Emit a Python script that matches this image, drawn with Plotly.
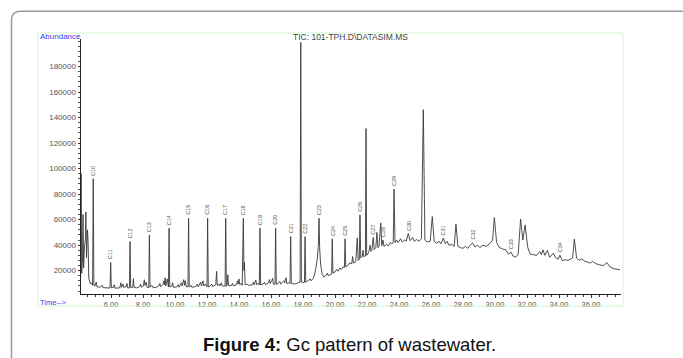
import plotly.graph_objects as go

# ---------------- data ----------------
rt_min = [
    4.10, 4.13, 4.17, 4.22, 4.25, 4.29, 4.34, 4.40, 4.43, 4.47, 4.50, 4.53, 4.57, 4.61, 4.66, 4.72,
    4.80, 4.85, 4.89, 4.93, 5.00, 5.08, 5.12, 5.30, 5.45, 5.50, 5.70, 5.94, 5.98, 6.02, 6.15, 6.20,
    6.25, 6.55, 6.62, 6.66, 6.75, 6.80, 6.95, 7.00, 7.04, 7.15, 7.19, 7.23, 7.36, 7.40, 7.44, 7.60,
    7.80, 7.85, 7.90, 8.03, 8.08, 8.12, 8.20, 8.25, 8.36, 8.40, 8.44, 8.55, 8.60, 8.80, 9.00, 9.05,
    9.10, 9.25, 9.30, 9.34, 9.38, 9.42, 9.52, 9.56, 9.59, 9.63, 9.67, 9.80, 9.85, 9.90, 10.10, 10.20,
    10.25, 10.40, 10.45, 10.55, 10.60, 10.65, 10.70, 10.81, 10.85, 10.89, 11.00, 11.05, 11.30, 11.40,
    11.45, 11.60, 11.65, 11.75, 11.80, 11.90, 11.95, 12.00, 12.04, 12.08, 12.20, 12.30, 12.35, 12.55,
    12.60, 12.64, 12.75, 12.80, 12.90, 12.95, 13.13, 13.17, 13.21, 13.27, 13.30, 13.34, 13.50, 13.60,
    13.65, 13.85, 13.90, 13.95, 14.00, 14.05, 14.15, 14.20, 14.27, 14.31, 14.34, 14.38, 14.50, 14.60,
    14.85, 14.90, 14.95, 15.05, 15.10, 15.20, 15.27, 15.31, 15.35, 15.50, 15.60, 15.65, 15.85, 15.90,
    15.95, 16.05, 16.10, 16.15, 16.25, 16.29, 16.33, 16.45, 16.55, 16.60, 16.75, 16.80, 16.85, 16.94,
    16.98, 17.10, 17.19, 17.23, 17.27, 17.45, 17.60, 17.75, 17.82, 17.86, 17.90, 17.98, 18.09, 18.13,
    18.17, 18.30, 18.45, 18.50, 18.65, 18.78, 18.90, 18.96, 19.00, 19.04, 19.10, 19.20, 19.30, 19.45,
    19.52, 19.58, 19.70, 19.79, 19.83, 19.87, 20.00, 20.10, 20.20, 20.30, 20.40, 20.50, 20.59, 20.63,
    20.67, 20.80, 20.90, 21.05, 21.10, 21.15, 21.30, 21.39, 21.45, 21.52, 21.56, 21.61, 21.70, 21.75,
    21.80, 21.90, 21.94, 21.98, 22.05, 22.12, 22.19, 22.25, 22.30, 22.39, 22.45, 22.55, 22.62, 22.68,
    22.75, 22.86, 22.92, 23.00, 23.06, 23.20, 23.35, 23.45, 23.55, 23.64, 23.69, 23.75, 23.85, 23.95,
    24.10, 24.20, 24.35, 24.45, 24.58, 24.70, 24.85, 24.95, 25.10, 25.25, 25.40, 25.52, 25.62, 25.75,
    25.95, 26.08, 26.20, 26.35, 26.50, 26.62, 26.77, 26.90, 27.00, 27.12, 27.30, 27.45, 27.56, 27.68,
    27.85, 28.00, 28.15, 28.30, 28.45, 28.60, 28.75, 28.90, 29.05, 29.25, 29.45, 29.70, 29.85, 29.96,
    30.10, 30.25, 30.45, 30.65, 30.85, 31.00, 31.12, 31.30, 31.45, 31.60, 31.74, 31.88, 32.05, 32.20,
    32.40, 32.60, 32.81, 32.90, 33.00, 33.12, 33.27, 33.42, 33.64, 33.80, 33.95, 34.06, 34.20, 34.40,
    34.55, 34.85, 34.96, 35.10, 35.25, 35.42, 35.60, 35.80, 35.95, 36.10, 36.30, 36.55, 36.80, 36.98,
    37.20, 37.45, 37.65, 37.81,
]
abundance = [
    14000, 96000, 18000, 30000, 64000, 22000, 38000, 45000, 66000, 30000, 40000, 52000, 42000, 14000, 11000, 9500,
    10500, 8500, 92000, 8500, 8000, 11000, 7500, 7000, 8500, 6800, 6500, 6500, 26400, 6500, 7000, 9000,
    6300, 6500, 10500, 7000, 9500, 6800, 7500, 10000, 6500, 6500, 42800, 6800, 7000, 13700, 7000, 6500,
    7500, 9500, 7000, 8000, 12900, 8500, 11000, 7000, 6800, 48000, 7000, 8500, 7000, 6800, 8000, 10000,
    7500, 9000, 12000, 9000, 14400, 8000, 13500, 7500, 7200, 53300, 7200, 8000, 10500, 7000, 7200, 9000,
    7000, 10500, 8000, 13000, 8500, 12000, 7500, 7200, 61100, 7200, 8500, 7000, 7500, 9500,
    7200, 11000, 8000, 12000, 8000, 9500, 7500, 7300, 61100, 7300, 8000, 9500, 7500, 9000,
    19400, 8500, 9500, 8000, 10500, 8000, 7800, 61100, 7800, 9000, 16800, 8500, 8000, 10000,
    8000, 9000, 12000, 9500, 13500, 9000, 10000, 8500, 61100, 20000, 26400, 9000, 9500, 8500,
    9000, 11000, 9000, 12500, 9000, 10000, 8800, 53300, 8800, 9500, 11000, 9000, 10500, 13000,
    10000, 12300, 14000, 9500, 9300, 53300, 9300, 10000, 11500, 9500, 11000, 12000, 10500, 14400,
    10000, 10500, 10000, 46700, 10000, 9500, 10000, 10500, 11000, 199000, 11000, 10500, 10800, 46700,
    11000, 12000, 13500, 12000, 14000, 20000, 30000, 40000, 61100, 38000, 25000, 17000, 15000, 16500,
    18000, 16000, 17000, 17500, 45000, 18000, 19000, 21000, 19500, 22000, 21000, 23000, 22500, 45000,
    23000, 24000, 26000, 25500, 31100, 26000, 27000, 45700, 28000, 29000, 63700, 30000, 31000, 36000,
    31000, 31500, 131400, 32000, 33000, 35000, 40000, 35000, 36000, 46000, 36500, 38000, 50000, 38000,
    39000, 57400, 39500, 44000, 39000, 40500, 39500, 42000, 41000, 42000, 84000, 42000, 44000, 42000,
    45000, 42500, 44000, 43000, 49000, 43500, 46000, 43000, 44500, 43000, 45000, 146200, 44000, 42500,
    43000, 62400, 43000, 41500, 43000, 41000, 45500, 41000, 43000, 40000, 40500, 39000, 56400, 39000,
    38000, 37500, 39000, 37500, 40000, 41700, 38500, 40000, 38000, 40000, 39000, 41500, 44000, 61600,
    42000, 38500, 37000, 36500, 33000, 34500, 31500, 30500, 33000, 60500, 44000, 55900, 38000, 33000,
    32500, 32000, 35000, 32500, 36300, 32000, 35800, 30500, 33700, 30000, 29000, 32000, 28000, 28500,
    28000, 30000, 44700, 30000, 28000, 29300, 27500, 26800, 26000, 27200, 25500, 24500, 24000, 26400,
    22800, 21500, 21000, 20700,
]

peak_labels = ["C10", "C11", "C12", "C13", "C14", "C15", "C16", "C17", "C18", "C19", "C20", "C21", "C22",
               "C23", "C24", "C25", "C26", "C27", "C28", "C29", "C30", "C31", "C32", "C33", "C34"]
label_rt = [4.89, 5.98, 7.19, 8.40, 9.63, 10.85, 12.04, 13.17, 14.27, 15.31, 16.29, 17.23, 18.13,
            19.00, 19.83, 20.63, 21.56, 22.39, 23.00, 23.69, 24.58, 26.77, 28.60, 31.00, 34.06]
label_abund = [92000, 26400, 42800, 48000, 53300, 61100, 61100, 61100, 61100, 53300, 53300, 46700, 46700,
               61100, 45000, 45000, 63700, 46000, 44000, 84000, 49000, 45500, 41700, 34500, 32000]

x_ticks = [6, 8, 10, 12, 14, 16, 18, 20, 22, 24, 26, 28, 30, 32, 34, 36]
y_ticks = [20000, 40000, 60000, 80000, 100000, 120000, 140000, 160000, 180000]

# ---------------- layout constants (pixels) ----------------
W, H = 683, 358
FONT = "Liberation Sans, Arial, sans-serif"


def px(x):
    return x / W


def py(y):
    return 1 - y / H


fig = go.Figure()
fig.add_trace(go.Scatter(x=rt_min, y=abundance, mode="lines",
                         line=dict(color="#3a3a3a", width=0.9), hoverinfo="skip"))

annotations = []
for name, t, a in zip(peak_labels, label_rt, label_abund):
    annotations.append(dict(x=t, y=a, xref="x", yref="y", text=name, showarrow=False,
                            textangle=-90, yanchor="bottom", xanchor="center", yshift=1,
                            font=dict(family=FONT, size=5.5, color="#555555")))

annotations += [
    dict(x=px(38), y=py(36), xref="paper", yref="paper", text="Abundance", showarrow=False,
         xanchor="left", yanchor="middle", font=dict(family=FONT, size=8, color="#3b3bf5")),
    dict(x=px(38), y=py(302), xref="paper", yref="paper", text="Time-->", showarrow=False,
         xanchor="left", yanchor="middle", font=dict(family=FONT, size=7.5, color="#3b3bf5")),
    dict(x=px(350), y=py(37), xref="paper", yref="paper", text="TIC: 101-TPH.D\\DATASIM.MS",
         showarrow=False, xanchor="center", yanchor="middle",
         font=dict(family=FONT, size=8.5, color="#444444")),
    dict(x=px(349), y=py(344), xref="paper", yref="paper",
         text="<b>Figure 4:</b> Gc pattern of wastewater.", showarrow=False,
         xanchor="center", yanchor="middle", font=dict(family=FONT, size=18.5, color="#111111")),
]

# outer rounded card (extends past the right and bottom edges)
r = 9
x0, y0 = 11.5, 11.3
card_path = (f"M {px(x0)},{py(H + 20)} L {px(x0)},{py(y0 + r)} "
             f"Q {px(x0)},{py(y0)} {px(x0 + r)},{py(y0)} L {px(W + 20)},{py(y0)}")
shapes = [
    dict(type="path", xref="paper", yref="paper", path=card_path,
         line=dict(color="#9a9a9a", width=1.5)),
    dict(type="rect", xref="paper", yref="paper", x0=px(38), x1=px(623), y0=py(306), y1=py(33),
         line=dict(color="#cdf5cd", width=1)),
]

fig.update_layout(
    width=W, height=H, margin=dict(l=0, r=0, t=0, b=0),
    paper_bgcolor="white", plot_bgcolor="white", showlegend=False,
    annotations=annotations, shapes=shapes,
    xaxis=dict(domain=[px(80.5), px(621)], range=[4.094, 37.875],
               tickvals=x_ticks, ticktext=[f"{v:.2f}" for v in x_ticks],
               ticks="outside", ticklen=3, tickcolor="#333", tickwidth=1,
               showline=True, linecolor="#222", linewidth=1, showgrid=False, zeroline=False,
               tickfont=dict(family=FONT, size=7.5, color="#555555"),
               minor=dict(tick0=0, dtick=0.5, ticks="outside", ticklen=2, tickcolor="#333",
                          showgrid=False)),
    yaxis=dict(domain=[py(294), py(38.5)], range=[1700, 202000],
               tickvals=y_ticks, ticktext=[str(v) for v in y_ticks],
               ticks="outside", ticklen=2, tickcolor="#333", tickwidth=1,
               showline=True, linecolor="#222", linewidth=1, showgrid=False, zeroline=False,
               tickfont=dict(family=FONT, size=8, color="#555555"),
               minor=dict(tick0=0, dtick=4000, ticks="outside", ticklen=1.5, tickcolor="#555",
                          showgrid=False)),
)

fig.write_html("out.html", config={"displayModeBar": False, "staticPlot": True},
               post_script="document.body.style.margin='0';document.body.style.overflow='hidden';")
